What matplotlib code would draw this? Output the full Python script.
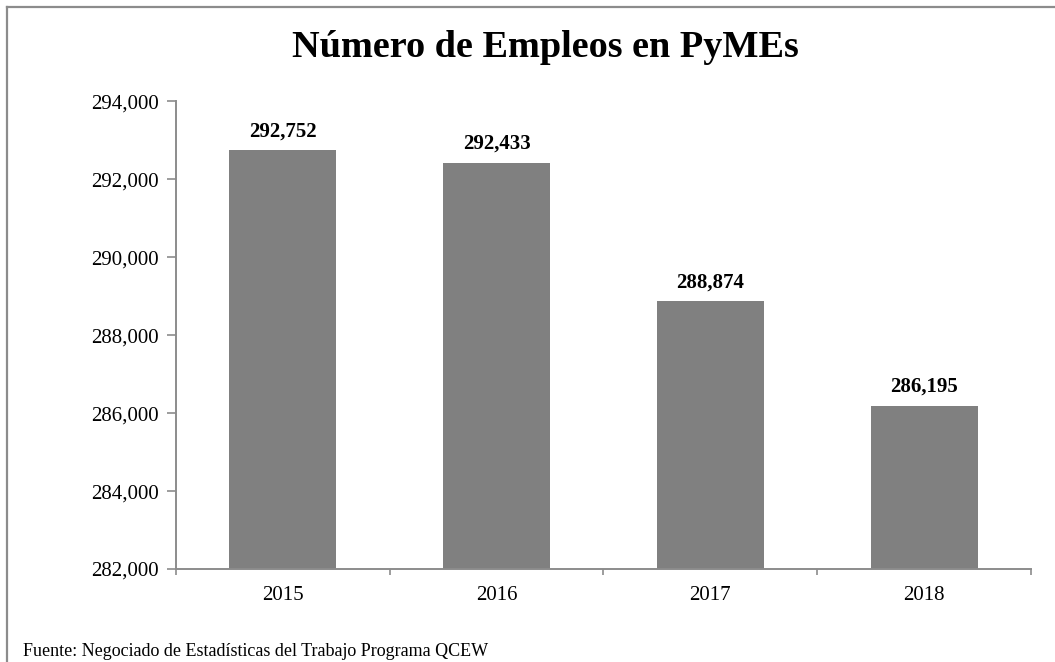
import matplotlib
matplotlib.use('Agg')
import matplotlib.pyplot as plt
from matplotlib.lines import Line2D
from matplotlib.ticker import FuncFormatter

years = ['2015', '2016', '2017', '2018']
empleos = [292752, 292433, 288874, 286195]

title = 'Número de Empleos en PyMEs'
fuente = 'Fuente: Negociado de Estadísticas del Trabajo Programa QCEW'

plt.rcParams['font.family'] = ['Liberation Serif', 'DejaVu Serif']
axis_gray = '#8c8c8c'

fig = plt.figure(figsize=(10.55, 6.62), dpi=100)
ax = fig.add_axes([0.1668, 0.1405, 0.8104, 0.7062])

x = list(range(len(years)))
bars = ax.bar(x, empleos, width=0.5, color='#808080', zorder=2)

ax.set_ylim(282000, 294000)
ax.set_yticks(range(282000, 294001, 2000))
ax.yaxis.set_major_formatter(FuncFormatter(lambda v, p: f'{int(v):,}'))
ax.set_xlim(-0.5, len(years) - 0.5)

# category labels at centres, tick marks at the boundaries
ax.set_xticks([i - 0.5 for i in range(len(years) + 1)])
ax.set_xticklabels([])
ax.set_xticks(x, minor=True)
ax.set_xticklabels(years, minor=True)
ax.tick_params(axis='x', which='major', length=4, width=1.2, color=axis_gray, direction='out')
ax.tick_params(axis='x', which='minor', length=0, pad=12.5, labelsize=15)
ax.tick_params(axis='y', length=6.5, width=1.2, color=axis_gray, pad=6, labelsize=15)

for s in ['top', 'right']:
    ax.spines[s].set_visible(False)
for s in ['left', 'bottom']:
    ax.spines[s].set_color(axis_gray)
    ax.spines[s].set_linewidth(1.4)

for b, v in zip(bars, empleos):
    ax.annotate(f'{v:,}', (b.get_x() + b.get_width() / 2, v), xytext=(0, 10),
                textcoords='offset points', ha='center', va='baseline',
                fontsize=15, fontweight='bold')

fig.text(0.517, 0.914, title, ha='center', va='baseline', fontsize=27.5, fontweight='bold')
fig.text(0.0218, 0.009, fuente, ha='left', va='baseline', fontsize=13)

# chart frame (only top and left edges visible in the image)
fig.add_artist(Line2D([0.0071, 1.0], [0.9887, 0.9887], color=axis_gray, lw=1.6))
fig.add_artist(Line2D([0.0071, 0.0071], [0.0, 0.9887], color=axis_gray, lw=1.6))

fig.savefig('out.png', dpi=100)
plt.close(fig)
